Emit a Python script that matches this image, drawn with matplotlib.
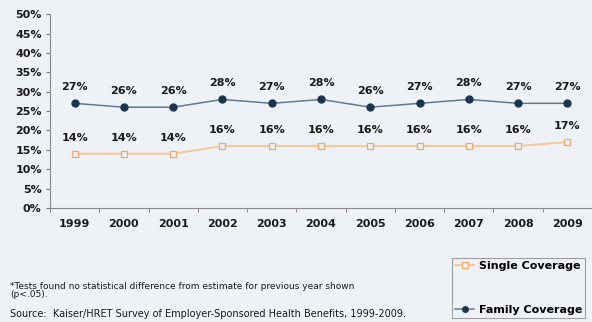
import matplotlib.pyplot as plt
import numpy as np

years = ["1999", "2000", "2001", "2002", "2003", "2004", "2005", "2006", "2007", "2008", "2009"]
single = [14, 14, 14, 16, 16, 16, 16, 16, 16, 16, 17]
family = [27, 26, 26, 28, 27, 28, 26, 27, 28, 27, 27]
yticks = [0, 5, 10, 15, 20, 25, 30, 35, 40, 45, 50]

bg = "#eef2f6"
navy = "#1b3550"
navy_line = "#5d7b92"
orange = "#f0a868"
orange_line = "#f5c9a0"
text_c = "#1a1a1a"

plt.rcParams["font.family"] = "DejaVu Sans"

fig = plt.figure(figsize=(5.92, 3.22), dpi=100, facecolor=bg)
ax = fig.add_axes([0.0845, 0.354, 0.9155, 0.602], facecolor=bg)

x = np.arange(len(years))
ax.plot(x, family, color=navy_line, lw=1.1, marker="o", ms=5,
        mfc=navy, mec=navy, label="Family Coverage", zorder=3)
ax.plot(x, single, color=orange_line, lw=1.5, marker="s", ms=5,
        mfc=bg, mec=orange, mew=0.9, label="Single Coverage", zorder=3)

for xi, v in zip(x, family):
    ax.annotate(f"{v}%", (xi, v), xytext=(0, 8), textcoords="offset points",
                ha="center", va="bottom", fontsize=8, fontweight="bold", color=text_c)
for xi, v in zip(x, single):
    ax.annotate(f"{v}%", (xi, v), xytext=(0, 8), textcoords="offset points",
                ha="center", va="bottom", fontsize=8, fontweight="bold", color=text_c)

ax.set_xlim(-0.5, len(years) - 0.5)
ax.set_ylim(0, 50)
ax.set_yticks(yticks)
ax.set_yticklabels([f"{t}%" for t in yticks], fontsize=8, fontweight="bold", color=text_c)
ax.set_xticks(x)
ax.set_xticklabels(years, fontsize=8, fontweight="bold", color=text_c)
ax.set_xticks(np.arange(-0.5, len(years)), minor=True)
ax.tick_params(axis="x", which="major", length=0, pad=8)
ax.tick_params(axis="x", which="minor", length=3, color="#777777", direction="out")
ax.tick_params(axis="y", length=3, color="#777777", pad=3)

for s in ["top", "right"]:
    ax.spines[s].set_visible(False)
ax.spines["left"].set_color("#888888")
ax.spines["bottom"].set_color("#888888")

fig.text(0.017, 1 - 290.5 / 322, "*Tests found no statistical difference from estimate for previous year shown\n(p<.05).",
         fontsize=6.5, color=text_c, va="center", linespacing=0.95)
fig.text(0.017, 1 - 314 / 322, "Source:  Kaiser/HRET Survey of Employer-Sponsored Health Benefits, 1999-2009.",
         fontsize=7, color=text_c, va="center")

handles, labels = ax.get_legend_handles_labels()
leg = fig.legend(handles[::-1], labels[::-1], loc="upper left",
                 bbox_to_anchor=(452 / 592, 1 - 258 / 322),
                 frameon=True, fancybox=False, edgecolor="#8a8a8a", facecolor=bg,
                 prop={"size": 8, "weight": "bold"}, handlelength=1.7, labelspacing=3.0,
                 borderpad=0.3, borderaxespad=0, handletextpad=0.4, markerscale=0.8)
leg.get_frame().set_linewidth(0.8)

fig.savefig("out.png", dpi=100, facecolor=bg)
